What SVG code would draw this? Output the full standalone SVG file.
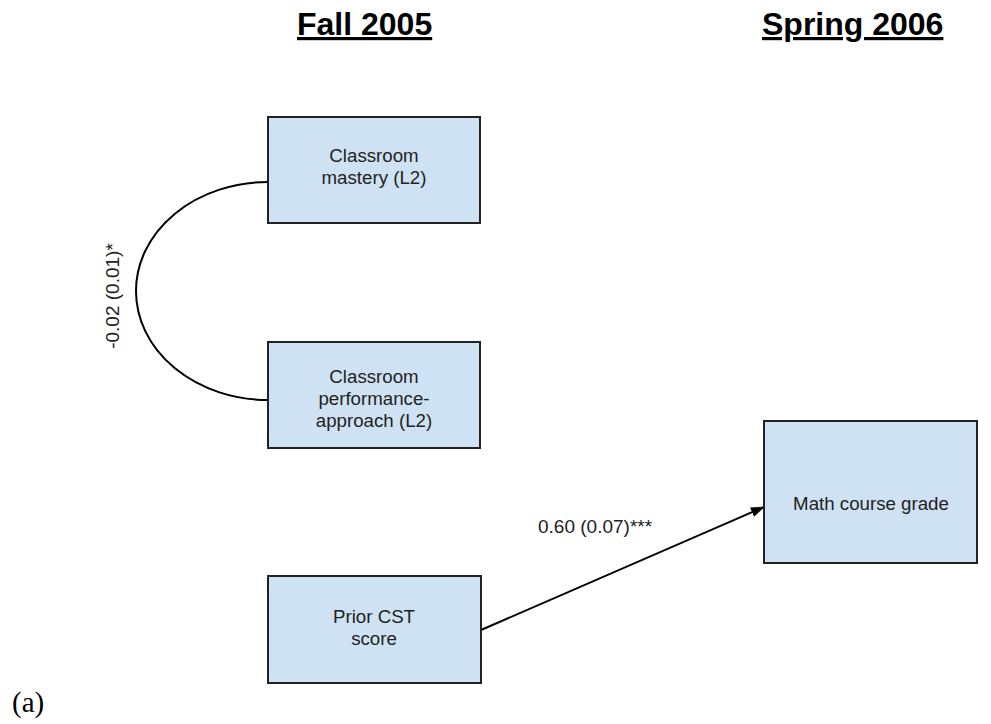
<svg xmlns="http://www.w3.org/2000/svg" width="991" height="724" viewBox="0 0 991 724">
<style>
.box{fill:#cfe2f3;stroke:#222;stroke-width:2}
.t{font-family:"Liberation Sans",Arial,sans-serif;font-size:18.7px;fill:#222;text-anchor:middle}
.h{font-family:"Liberation Sans",Arial,sans-serif;font-size:32px;font-weight:bold;fill:#000;text-decoration:underline}
.lbl{font-family:"Liberation Sans",Arial,sans-serif;font-size:19px;fill:#222}
.c{fill:none;stroke:#000;stroke-width:2}
</style>
<defs>
<marker id="ah" markerWidth="14" markerHeight="10" refX="13" refY="5" orient="auto" markerUnits="userSpaceOnUse">
<path d="M0,0 L14,5 L0,10 Z" fill="#000"/>
</marker>
</defs>
<rect width="991" height="724" fill="#fff"/>
<text class="h" x="297" y="35">Fall 2005</text>
<text class="h" x="762" y="35">Spring 2006</text>
<g id="connectors">
<path class="c" d="M268,182 A132,109 0 0 0 268,400"/>
<line class="c" x1="481" y1="630" x2="764" y2="507" marker-end="url(#ah)"/>
<text class="lbl" transform="translate(119,296) rotate(-90)" text-anchor="middle">-0.02 (0.01)*</text>
<text class="lbl" x="538" y="533">0.60 (0.07)***</text>
</g>
<g id="mastery">
<rect class="box" x="268" y="117" width="212" height="106"/>
<text class="t" x="374" y="162">Classroom</text>
<text class="t" x="374" y="184">mastery (L2)</text>
</g>
<g id="performance">
<rect class="box" x="268" y="342" width="212" height="106"/>
<text class="t" x="374" y="383">Classroom</text>
<text class="t" x="374" y="405">performance-</text>
<text class="t" x="374" y="427">approach (L2)</text>
</g>
<g id="prior">
<rect class="box" x="268" y="576" width="213" height="107"/>
<text class="t" x="374" y="623">Prior CST</text>
<text class="t" x="374" y="645">score</text>
</g>
<g id="math">
<rect class="box" x="764" y="421" width="213" height="142"/>
<text class="t" x="871" y="510">Math course grade</text>
</g>
<text x="12" y="712" style="font-family:'Liberation Serif','Times New Roman',serif;font-size:29px;fill:#000">(a)</text>
</svg>
